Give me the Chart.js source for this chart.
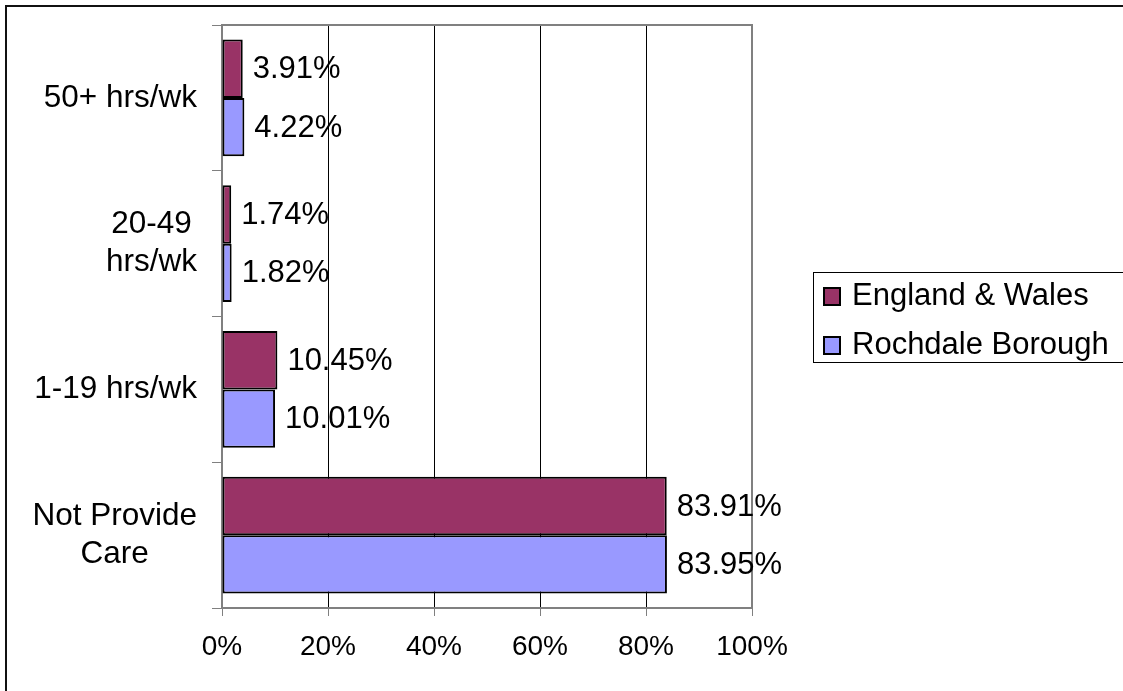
<!DOCTYPE html>
<html>
<head>
<meta charset="utf-8">
<script src="https://cdn.jsdelivr.net/npm/chart.js@4/dist/chart.umd.min.js"></script>
<style>
  html, body { margin: 0; padding: 0; background: #fff; }
  #wrap { position: relative; width: 1123px; height: 691px; overflow: hidden; }
  #frame { position: absolute; left: 5px; top: 5px; width: 1300px; height: 900px; border-top: 2px solid #111; border-left: 2px solid #111; }
  #c { position: absolute; left: 0; top: 0; }
</style>
</head>
<body>
<div id="wrap">
  <div id="frame"></div>
  <canvas id="c" width="1123" height="691"></canvas>
</div>
<script>
// ---- data ----
const categories = [["50+ hrs/wk"], ["20-49", "hrs/wk"], ["1-19 hrs/wk"], ["Not Provide", "Care"]];
const seriesNames = ["England & Wales", "Rochdale Borough"];
const englandWales = [3.91, 1.74, 10.45, 83.91];
const rochdale = [4.22, 1.82, 10.01, 83.95];
const xTickValues = [0, 20, 40, 60, 80, 100];

const FONT = '"Liberation Sans", Arial, sans-serif';
const FS = 31;
const FS_Y = 31.5;
const FS_X = 28;
const colors = ["#993366", "#9999FF"];

const plotFrame = {
  id: 'plotFrame',
  afterDatasetsDraw(chart) {
    const { ctx, chartArea: a } = chart;
    ctx.save();
    ctx.strokeStyle = '#808080';
    ctx.lineWidth = 2;
    ctx.beginPath();
    ctx.moveTo(a.left, a.top);
    ctx.lineTo(a.right, a.top);
    ctx.lineTo(a.right, a.bottom);
    ctx.stroke();
    ctx.restore();
  }
};

const valueLabels = {
  id: 'valueLabels',
  afterDatasetsDraw(chart) {
    const { ctx } = chart;
    ctx.save();
    ctx.font = FS + 'px ' + FONT;
    ctx.fillStyle = '#000';
    ctx.textAlign = 'left';
    ctx.textBaseline = 'middle';
    chart.data.datasets.forEach((ds, di) => {
      const meta = chart.getDatasetMeta(di);
      meta.data.forEach((el, i) => {
        ctx.fillText(ds.data[i].toFixed(2) + '%', el.x + 10, el.y + 1);
      });
    });
    ctx.restore();
  }
};

const yLabels = {
  id: 'yLabels',
  afterDraw(chart) {
    const { ctx } = chart;
    const ys = chart.scales.y;
    ctx.save();
    ctx.font = FS_Y + 'px ' + FONT;
    ctx.fillStyle = '#000';
    ctx.textAlign = 'center';
    ctx.textBaseline = 'middle';
    const lineH = 38;
    chart.data.labels.forEach((lines, i) => {
      const yc = ys.getPixelForValue(i);
      const bw = Math.max(...lines.map(l => ctx.measureText(l).width));
      const cx = 197 - bw / 2;
      const y0 = yc - (lines.length - 1) * lineH / 2;
      lines.forEach((l, k) => ctx.fillText(l, cx, y0 + k * lineH));
    });
    ctx.restore();
  }
};

const boxLegend = {
  id: 'boxLegend',
  afterDraw(chart) {
    const { ctx } = chart;
    ctx.save();
    ctx.strokeStyle = '#000';
    ctx.lineWidth = 1;
    ctx.strokeRect(813.5, 272.5, 330, 90);
    ctx.font = FS + 'px ' + FONT;
    ctx.textAlign = 'left';
    ctx.textBaseline = 'middle';
    chart.data.datasets.forEach((ds, i) => {
      const yc = 296 + i * 49;
      ctx.fillStyle = ds.backgroundColor;
      ctx.fillRect(824, yc - 8, 16, 17);
      ctx.strokeStyle = '#000';
      ctx.lineWidth = 2;
      ctx.strokeRect(824, yc - 8, 16, 17);
      ctx.fillStyle = '#000';
      ctx.fillText(ds.label, 852, yc);
    });
    ctx.restore();
  }
};

new Chart(document.getElementById('c'), {
  type: 'bar',
  data: {
    labels: categories,
    datasets: [
      { label: seriesNames[0], data: englandWales, backgroundColor: colors[0] },
      { label: seriesNames[1], data: rochdale, backgroundColor: colors[1] }
    ]
  },
  options: {
    indexAxis: 'y',
    responsive: false,
    animation: false,
    devicePixelRatio: 1,
    layout: { padding: { left: 0, top: 25, right: 371, bottom: 0 } },
    datasets: {
      bar: {
        borderColor: '#000',
        borderWidth: 2,
        borderSkipped: false,
        categoryPercentage: 0.8,
        barPercentage: 1.0
      }
    },
    scales: {
      x: {
        min: 0, max: 100,
        afterBuildTicks(scale) { scale.ticks = xTickValues.map(v => ({ value: v })); },
        afterFit(scale) { scale.height = 83; },
        ticks: {
          callback: v => v + '%',
          color: '#000',
          font: { family: FONT, size: FS_X },
          padding: 14,
          maxRotation: 0
        },
        grid: { color: '#000', lineWidth: 1, tickColor: '#808080', tickLength: 8, drawTicks: true },
        border: { color: '#808080', width: 2 }
      },
      y: {
        afterFit(scale) { scale.width = 222; },
        ticks: { display: false },
        grid: { drawOnChartArea: false, offset: true, color: '#808080', tickLength: 10, lineWidth: 1 },
        border: { color: '#808080', width: 2 }
      }
    },
    plugins: {
      legend: { display: false },
      tooltip: { enabled: false }
    }
  },
  plugins: [plotFrame, valueLabels, yLabels, boxLegend]
});
</script>
</body>
</html>
